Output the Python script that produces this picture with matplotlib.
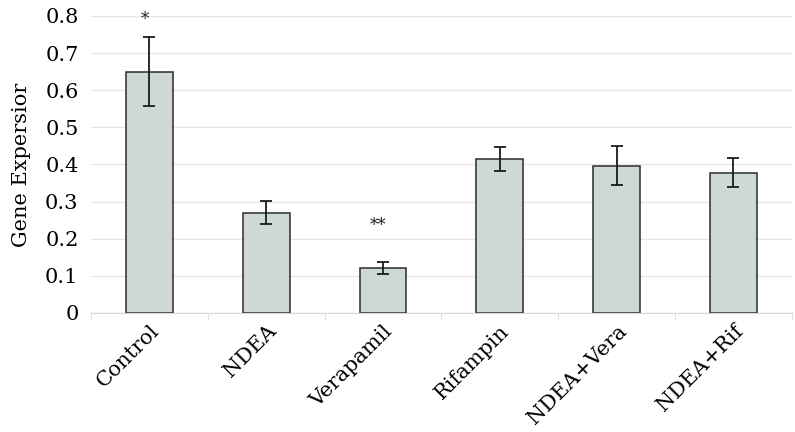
import matplotlib.pyplot as plt
import numpy as np

plt.rcParams['font.family'] = ['DejaVu Serif']

# 数据
groups = ['Control', 'NDEA', 'Verapamil', 'Rifampin', 'NDEA+Vera', 'NDEA+Rif']
values = [0.65, 0.27, 0.12, 0.415, 0.397, 0.378]
errors = [0.093, 0.031, 0.016, 0.032, 0.052, 0.039]
marks = ['*', '', '**', '', '', '']
mark_y = [0.79, 0, 0.235, 0, 0, 0]

fig = plt.figure(figsize=(7.95, 4.32), dpi=100)
ax = fig.add_axes([0.1145, 0.2755, 0.8815, 0.6875])

x = np.arange(len(groups))
ax.bar(x, values, width=0.4, color='#cdd8d7', edgecolor='#2b2b2b', linewidth=1.1, zorder=2)
ax.errorbar(x, values, yerr=errors, fmt='none', ecolor='#1a1a1a', elinewidth=1.3,
            capsize=4, capthick=1.3, zorder=3)

for xi, m, my in zip(x, marks, mark_y):
    if m:
        ax.text(xi - 0.04, my, m, ha='center', va='center', fontsize=12, color='#222222')

ax.set_xlim(-0.5, len(groups) - 0.5)
ax.set_ylim(0, 0.8)
ax.set_yticks(np.arange(0, 0.81, 0.1))
ax.set_yticklabels(['0', '0.1', '0.2', '0.3', '0.4', '0.5', '0.6', '0.7', '0.8'])
ax.grid(axis='y', color='#e6e6e6', linewidth=1, zorder=0)
ax.set_axisbelow(True)

for s in ['top', 'right', 'left']:
    ax.spines[s].set_visible(False)
ax.spines['bottom'].set_color('#d9d9d9')

# 类别分隔刻度
ax.set_xticks(np.arange(-0.5, len(groups)), minor=True)
ax.tick_params(axis='x', which='minor', length=5, color='#d9d9d9')
ax.tick_params(axis='x', which='major', length=0, pad=6)
ax.tick_params(axis='y', length=0, labelsize=15, pad=9)

ax.set_xticks(x)
ax.set_xticklabels(groups, rotation=45, ha='right', rotation_mode='anchor', fontsize=15)
ax.set_ylabel('Gene Expersior', fontsize=15, labelpad=10)

plt.savefig('out.png', dpi=100)
plt.close()
